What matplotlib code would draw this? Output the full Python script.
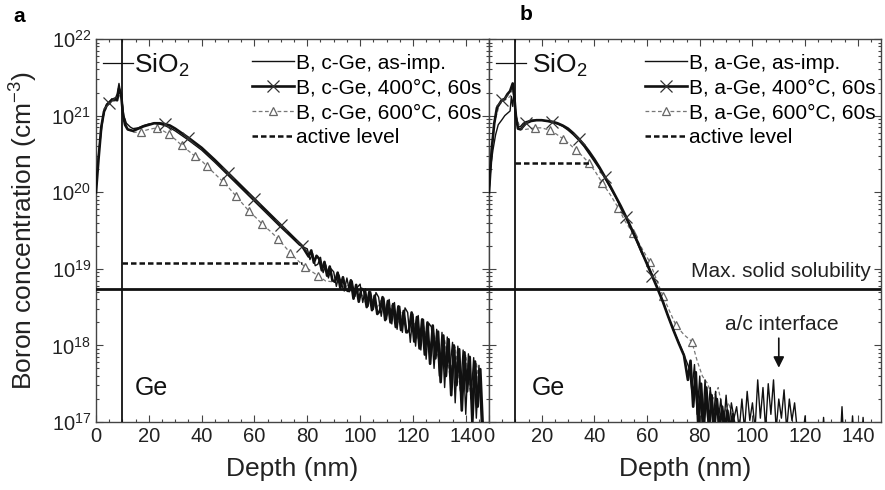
import numpy as np
import matplotlib.pyplot as plt
from matplotlib.ticker import LogLocator, MultipleLocator, NullFormatter

plt.rcParams['font.family'] = ['Liberation Sans', 'DejaVu Sans']
plt.rcParams['mathtext.fontset'] = 'custom'
plt.rcParams['mathtext.rm'] = 'Liberation Sans'
plt.rcParams['mathtext.it'] = 'Liberation Sans:italic'

# ---- panel a: c-Ge (depth in nm, log10 of concentration in cm^-3) ----
a_asimp_x = [0, 1, 2, 3, 4, 5, 6, 7, 8, 8.7, 9.3, 10, 10.5, 11.5, 13, 14, 16, 18, 20, 22,
             24, 26, 28, 30, 35, 40, 45, 50, 55, 60, 65, 70, 74, 77,
             80, 81, 82, 83, 84, 85, 86, 87, 88, 89, 90, 91, 92, 93, 94, 95, 96, 97, 98, 99,
             100, 101, 102, 103, 104, 105, 106, 107, 108, 109, 110, 111, 112, 113, 114, 115,
             116, 117, 118, 119, 120, 121, 122, 123, 124, 125, 126, 127, 128, 129, 130, 131,
             132, 133, 134, 135, 136, 137, 138, 139, 140, 141, 142, 143, 144, 145, 146, 147]
a_asimp_log = [20.03, 20.5, 20.8, 21.05, 21.15, 21.18, 21.22, 21.2, 21.28, 21.42, 21.3, 21.15, 21.0, 20.9, 20.85, 20.83, 20.84, 20.87, 20.89, 20.9,
               20.89, 20.87, 20.84, 20.8, 20.68, 20.55, 20.39, 20.22, 20.05, 19.88, 19.71, 19.54, 19.41, 19.31,
               19.26, 19.12, 19.20, 19.04, 19.06, 19.15, 18.95, 19.05, 18.88, 19.00, 18.96, 18.77, 18.92, 18.79, 18.71, 18.88, 18.70, 18.84, 18.64, 18.76,
               18.80, 18.56, 18.74, 18.51, 18.70, 18.47, 18.69, 18.63, 18.38, 18.62, 18.34, 18.60, 18.28, 18.56, 18.21, 18.51,
               18.17, 18.49, 18.43, 18.04, 18.41, 17.99, 18.39, 17.94, 18.34, 17.82, 18.29, 18.24, 17.70, 18.21, 17.60, 18.17,
               17.45, 18.11, 17.70, 18.04, 17.25, 17.99, 17.40, 17.94, 17.10, 17.89, 17.30, 17.84, 17.05, 17.74, 16.90, 16.90]

a_400_x = [0, 1, 2, 3, 4, 5, 6, 7, 8, 8.7, 9.5, 10.2, 11, 12, 14, 16, 18, 20, 22, 24, 26, 28, 30,
           35, 40, 45, 50, 55, 60, 65, 70, 75, 78,
           80.5, 81.5, 82.5, 83.5, 84.5, 85.5, 86.5, 87.5, 88.5, 89.5, 90.5, 91.5, 92.5, 93.5, 94.5,
           95.5, 96.5, 97.5, 98.5, 99.5, 100.5, 101.5, 102.5, 103.5, 104.5, 105.5, 106.5, 107.5,
           108.5, 109.5, 110.5, 111.5, 112.5, 113.5, 114.5, 115.5, 116.5, 117.5, 118.5, 119.5,
           120.5, 121.5, 122.5, 123.5, 124.5, 125.5, 126.5, 127.5, 128.5, 129.5, 130.5, 131.5,
           132.5, 133.5, 134.5, 135.5, 136.5, 137.5, 138.5, 139.5, 140.5, 141.5, 142.5, 143.5,
           144.5, 145.5, 146.5]
a_400_log = [20.0, 20.45, 20.85, 21.05, 21.13, 21.17, 21.2, 21.22, 21.2, 21.35, 21.28, 21.02, 20.88, 20.82, 20.8, 20.83, 20.86, 20.88, 20.9, 20.9, 20.89, 20.87, 20.83,
             20.71, 20.58, 20.42, 20.25, 20.08, 19.91, 19.74, 19.57, 19.40, 19.30,
             19.16, 19.24, 19.08, 19.17, 19.13, 18.98, 19.09, 18.91, 19.03, 18.85, 18.83, 18.95, 18.75, 18.89, 18.73,
             18.71, 18.85, 18.61, 18.79, 18.57, 18.74, 18.72, 18.50, 18.70, 18.46, 18.65, 18.41, 18.45,
             18.63, 18.33, 18.58, 18.30, 18.54, 18.24, 18.51, 18.20, 18.45, 18.17, 18.19, 18.43,
             18.05, 18.37, 17.96, 18.34, 17.88, 18.30, 17.76, 18.26, 17.83, 18.18, 17.52, 18.13,
             17.60, 18.08, 17.35, 18.00, 17.48, 17.95, 17.15, 17.91, 17.40, 17.85, 17.00, 17.79,
             17.20, 17.69, 16.90]

a_600_x = [0, 2, 4, 6, 8, 9.5, 10.5, 12, 14.5, 17, 20, 23, 25, 27.5, 30, 32.5, 35, 37.5, 40, 42,
           45, 48, 50.5, 53, 55.5, 58, 60.5, 63, 66, 69, 71, 73.5, 76, 79, 81.5, 84, 87,
           90, 92, 94, 96, 98, 100, 102, 104, 106, 108, 110, 112, 114, 116, 118, 120, 122, 124,
           126, 128, 130, 132, 134, 136, 138, 140, 142, 144, 146]
a_600_log = [20.1, 20.9, 21.12, 21.18, 21.2, 21.3, 21.0, 20.82, 20.78, 20.79, 20.82, 20.84, 20.81, 20.76, 20.69, 20.61, 20.54, 20.47, 20.41, 20.34,
             20.24, 20.14, 20.05, 19.95, 19.85, 19.75, 19.67, 19.58, 19.49, 19.39, 19.31, 19.21, 19.12, 19.03, 18.97, 18.91, 18.84,
             18.83, 18.88, 18.74, 18.82, 18.64, 18.74, 18.56, 18.68, 18.47, 18.59, 18.38, 18.52, 18.28, 18.43, 18.16, 18.36, 18.08, 18.26,
             17.95, 18.16, 17.75, 18.08, 17.60, 17.98, 17.40, 17.88, 17.30, 17.78, 17.20]

a_400_marks = [5, 26, 37, 48, 58, 68, 78]
a_600_marks = [17, 23, 27.5, 32.5, 37.5, 42, 48, 53, 58, 63, 69, 73.5, 79, 84]

# ---- panel b: a-Ge ----
b_asimp_x = [0, 0.7, 1.5, 2.5, 3.5, 5, 6, 7, 8, 8.5, 9, 9.5, 10.2, 11, 12, 13, 14, 16, 18, 20,
             22, 24, 26, 28, 30, 32, 34, 36, 38, 40, 42, 44, 46, 48, 50, 52, 54, 56, 58, 60,
             62, 64, 66, 68, 70, 72, 74, 76,
             77, 78, 79, 80, 81, 82, 83, 84, 85, 86, 87, 88, 89, 90, 91, 92, 93, 94, 95, 96,
             97, 98, 99, 100, 101, 102, 103, 104, 105, 106, 107, 108, 109, 110, 111, 112, 113,
             114, 115, 116, 117, 118, 120, 121, 126, 127, 128, 133, 134, 135, 137, 138, 139,
             141, 142, 143, 147]
b_asimp_log = [20.0, 20.35, 20.55, 20.75, 20.88, 20.95, 21.0, 21.03, 21.06, 21.25, 21.12, 21.3, 21.0, 20.85, 20.86, 20.9, 20.92, 20.94, 20.94, 20.94,
               20.93, 20.91, 20.89, 20.86, 20.81, 20.75, 20.68, 20.6, 20.5, 20.4, 20.3, 20.18, 20.06, 19.94, 19.8, 19.66, 19.51, 19.36, 19.2, 19.08,
               18.92, 18.75, 18.58, 18.38, 18.2, 18.04, 17.88, 17.7,
               17.4, 17.75, 17.1, 17.6, 16.9, 17.55, 17.05, 17.45, 16.9, 17.4, 17.0, 17.3, 16.9, 17.35, 16.9, 17.25, 17.05, 17.2, 16.9, 17.3,
               16.9, 17.4, 17.02, 17.25, 16.9, 17.55, 17.05, 17.45, 16.9, 17.5, 17.1, 17.55, 16.9, 17.3, 17.05, 17.42, 16.9,
               17.3, 17.02, 17.25, 16.9, 16.5, 17.08, 16.5, 16.5, 17.06, 16.5, 16.5, 17.2, 16.5, 16.5, 17.08, 16.5,
               16.5, 17.06, 16.5, 16.5]

b_400_x = [0, 1, 2, 3, 4.8, 6, 7, 8, 9, 9.6, 10.2, 11, 12, 13, 14, 16, 18, 20, 22, 24, 26, 28,
           30, 32, 34, 36, 38, 40, 42, 44, 46, 48, 50, 52, 54, 56, 58, 60, 62, 64, 66, 68, 70,
           72, 74, 75.5, 76.5, 77.5, 78.5, 79.5, 80.5, 81.5, 82.5, 83.5, 84.5, 85.5, 86.5, 87.5,
           88.5, 89.5, 90.5, 91.5, 92.5, 93.5, 95]
b_400_log = [20.0, 20.55, 20.9, 21.1, 21.2, 21.22, 21.28, 21.32, 21.42, 21.25, 21.0, 20.83, 20.82, 20.86, 20.9, 20.93, 20.94, 20.94, 20.93, 20.92, 20.9, 20.87,
             20.83, 20.77, 20.7, 20.62, 20.53, 20.43, 20.32, 20.2, 20.08, 19.95, 19.82, 19.68, 19.53, 19.38, 19.22, 19.06, 18.9, 18.74, 18.57, 18.38, 18.2,
             18.03, 17.87, 17.55, 17.8, 17.2, 17.65, 16.9, 17.5, 16.9, 17.45, 16.9, 17.35, 16.9, 17.3, 16.9,
             17.2, 16.9, 17.15, 16.9, 17.1, 16.9, 16.9]

b_600_x = [0, 2, 4, 6, 8, 9, 10.2, 12, 14, 17.4, 20, 23, 25.5, 28, 30.5, 33, 35.5, 38, 40.5, 43,
           46, 49, 51.5, 54.5, 57, 61, 64, 66, 68.5, 71, 74, 77, 79, 81, 83, 85, 87, 89, 91, 93, 95]
b_600_log = [20.0, 20.9, 21.15, 21.2, 21.25, 21.35, 21.0, 20.82, 20.82, 20.84, 20.84, 20.81, 20.76, 20.7, 20.63, 20.55, 20.47, 20.38, 20.26, 20.12,
             19.97, 19.8, 19.63, 19.47, 19.33, 19.09, 18.82, 18.65, 18.45, 18.26, 18.14, 18.05, 17.8, 17.6, 17.5, 17.3, 17.45, 17.1, 17.25, 17.0, 16.9]

b_400_marks = [4.8, 14, 24, 34, 44, 53, 62]
b_600_marks = [17.4, 23, 28, 33, 38, 43, 49, 54.5, 61, 66, 71, 77]

# reference levels (cm^-3) and annotation anchors
interface_depth = 10
max_solubility = 5.5e18
active_a = (1.2e19, 78)    # level, depth where it meets the profile
active_b = (2.4e20, 38)
sio2_mark = (2.5, 14, 4.9e21)
labels_a = ['B, c-Ge, as-imp.', 'B, c-Ge, 400°C, 60s', 'B, c-Ge, 600°C, 60s', 'active level']
labels_b = ['B, a-Ge, as-imp.', 'B, a-Ge, 400°C, 60s', 'B, a-Ge, 600°C, 60s', 'active level']


def nearest_idx(xs, marks):
    xs = np.asarray(xs)
    return [int(np.argmin(np.abs(xs - m))) for m in marks]


def draw_panel(ax, asimp, p400, p600, m400, m600, active, labels, sio2_x, ge_x):
    l600, = ax.plot(p600[0], 10 ** np.array(p600[1]), ls=(0, (3, 2)), lw=0.9, color='#777777',
                    marker='^', ms=6, mfc='white', mec='#666666', mew=0.9,
                    markevery=nearest_idx(p600[0], m600), zorder=2)
    l0, = ax.plot(asimp[0], 10 ** np.array(asimp[1]), lw=1.0, color='#111111', zorder=3)
    l400, = ax.plot(p400[0], 10 ** np.array(p400[1]), lw=1.9, color='#111111',
                    marker='x', ms=8, mec='#333333', mew=0.9,
                    markevery=nearest_idx(p400[0], m400), zorder=4)
    lact, = ax.plot([interface_depth, active[1]], [active[0], active[0]], ls=(0, (2.2, 1.2)),
                    lw=1.8, color='#111111', zorder=5)
    ax.axvline(interface_depth, color='#111111', lw=1.3, zorder=5)
    ax.axhline(max_solubility, color='#111111', lw=2.0, zorder=5)
    ax.plot(sio2_mark[:2], [sio2_mark[2]] * 2, color='#111111', lw=0.9)
    ax.text(sio2_x, 3.6e21, 'SiO$_2$', fontsize=19, va='baseline', ha='left', color='#111111')
    ax.text(ge_x, 2.25e17, 'Ge', fontsize=18, va='baseline', ha='left', color='#111111')

    ax.set_yscale('log')
    ax.set_xlim(0, 148.8)
    ax.set_ylim(1e17, 1e22)
    ax.xaxis.set_major_locator(MultipleLocator(20))
    ax.xaxis.set_minor_locator(MultipleLocator(5))
    ax.yaxis.set_major_locator(LogLocator(base=10, numticks=10))
    ax.yaxis.set_minor_locator(LogLocator(base=10, subs=np.arange(2, 10), numticks=20))
    ax.yaxis.set_minor_formatter(NullFormatter())
    ax.tick_params(which='both', direction='in', top=True, right=True, colors='#444444',
                   labelcolor='#222222', labelsize=14.5, width=0.8)
    ax.tick_params(which='major', length=5)
    ax.tick_params(which='minor', length=2.5)
    for s in ax.spines.values():
        s.set_color('#444444')
        s.set_linewidth(1.0)
    ax.set_xlabel('Depth (nm)', fontsize=19, labelpad=8, color='#222222')

    ax.legend([l0, l400, l600, lact], labels, loc='upper left', bbox_to_anchor=(0.398, 0.962),
              frameon=False, fontsize=15, handlelength=2.0, handletextpad=0.1,
              labelspacing=0.28, borderpad=0, borderaxespad=0, numpoints=1)


fig = plt.figure(figsize=(8.85, 4.9), dpi=100)
ax_a = fig.add_axes([96 / 885, 1 - 422 / 490, 393 / 885, 383 / 490])
ax_b = fig.add_axes([489 / 885, 1 - 422 / 490, 392 / 885, 383 / 490])

draw_panel(ax_a, (a_asimp_x, a_asimp_log), (a_400_x, a_400_log), (a_600_x, a_600_log),
           a_400_marks, a_600_marks, active_a, labels_a, 14.3, 14.8)
draw_panel(ax_b, (b_asimp_x, b_asimp_log), (b_400_x, b_400_log), (b_600_x, b_600_log),
           b_400_marks, b_600_marks, active_b, labels_b, 16.3, 16.3)

ax_a.set_ylabel('Boron concentration (cm$^{-3}$)', fontsize=19, labelpad=8, color='#222222')
ax_b.tick_params(axis='y', which='both', labelleft=False)

ax_b.text(145, 9.3e18, 'Max. solid solubility', fontsize=15, ha='right', va='center', color='#222222')
ax_b.text(111, 1.9e18, 'a/c interface', fontsize=15, ha='center', va='center', color='#222222')
ax_b.annotate('', xy=(110, 4.7e17), xytext=(110, 1.35e18),
              arrowprops=dict(arrowstyle='-|>', color='#111111', lw=1.2, mutation_scale=16))

fig.text(13 / 885, 1 - 17 / 490, 'a', fontsize=15, fontweight='bold', va='center')
fig.text(520 / 885, 1 - 15 / 490, 'b', fontsize=15, fontweight='bold', va='center')

fig.savefig('out.png', dpi=100)
